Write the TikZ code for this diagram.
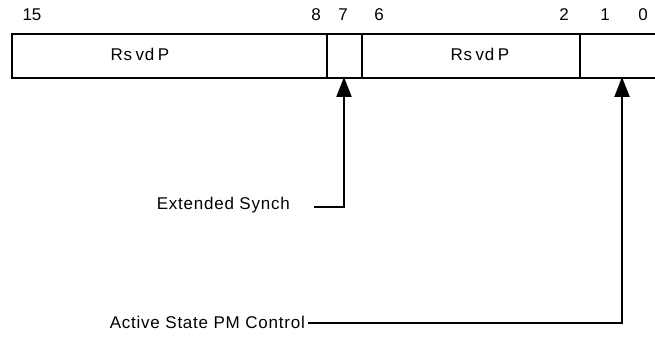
\documentclass[tikz,border=0pt]{standalone}
\usepackage{fontspec}
\setmainfont{Liberation Sans}
\usetikzlibrary{arrows.meta}
\begin{document}
\begin{tikzpicture}[x=1pt,y=-1pt,
  field/.style={draw,line width=2.2pt,inner sep=0pt,anchor=north west,minimum height=44pt},
  lbl/.style={inner sep=0pt,font=\fontsize{17}{19}\selectfont\addfontfeatures{LetterSpace=4.5}},
  bitno/.style={inner sep=0pt,anchor=base,font=\fontsize{17}{19}\selectfont},
  conn/.style={line width=2.2pt,-{Triangle[length=20pt,width=15pt]}}]
\useasboundingbox (0,0) rectangle (655,339);
% register fields
\node[field,minimum width=315pt] (f1) at (11,33) {};
\node[field,minimum width=35pt] (f2) at (326,33) {};
\node[field,minimum width=218pt] (f3) at (361,33) {};
\node[field,minimum width=80pt] (f4) at (579,33) {};
\node[lbl,anchor=base] (r1) at (140,61) {Rs\kern3.5pt vd\kern3.5pt P};
\node[lbl,anchor=base] (r2) at (480,61) {Rs\kern3.5pt vd\kern3.5pt P};
% bit numbers
\node[bitno] (b15) at (32,21) {15};
\node[bitno] (b8) at (316,21) {8};
\node[bitno] (b7) at (343,21) {7};
\node[bitno] (b6) at (379,21) {6};
\node[bitno] (b2) at (564,21) {2};
\node[bitno] (b1) at (605,21) {1};
\node[bitno] (b0) at (643,21) {0};
% labels
\node[lbl,anchor=base east] (es) at (290,209) {Extended Synch};
\node[lbl,anchor=base east] (asp) at (305,328) {Active State PM Control};
\coordinate (es0) at (314,207);
\coordinate (asp0) at (308,323);
\coordinate (t1) at (344,77);
\coordinate (t2) at (622,77);
\draw[conn] (es0) -| (t1);
\draw[conn] (asp0) -| (t2);
\end{tikzpicture}
\end{document}
